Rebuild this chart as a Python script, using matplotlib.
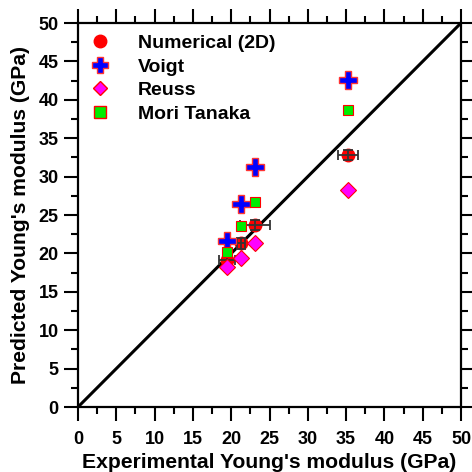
import matplotlib
matplotlib.use("Agg")
import matplotlib.pyplot as plt
from matplotlib.ticker import MultipleLocator
from matplotlib.lines import Line2D

plt.rcParams['font.family'] = ['Liberation Sans', 'DejaVu Sans']
plt.rcParams['font.weight'] = 'bold'

exp_x = [19.5, 21.3, 23.1, 35.2]
numerical = [19.2, 21.3, 23.7, 32.8]
num_xerr = [1.05, 0.55, 2.0, 1.3]
num_yerr = [0.7, 0.7, 0.7, 0.7]
voigt = [21.6, 26.4, 31.2, 42.6]
reuss = [18.2, 19.4, 21.3, 28.2]
mori = [20.2, 23.6, 26.7, 38.7]

fig = plt.figure(figsize=(4.72, 4.72), dpi=100)
ax = fig.add_axes([78/472, 1-407/472, (461-78)/472, (407-23)/472])

ax.plot([0, 50], [0, 50], color='black', lw=2.2, zorder=1)

ax.plot(exp_x, numerical, 'o', color='red', ms=9, ls='none', zorder=3,
        label='Numerical (2D)')
ax.errorbar(exp_x, numerical, xerr=num_xerr, yerr=num_yerr, fmt='none',
            ecolor='#333333', elinewidth=1.3, capsize=3.5, capthick=1.3, zorder=3.5)
ax.plot(exp_x, voigt, 'P', ms=13, mfc='blue', mec='#ff3333', mew=1.0, ls='none',
        zorder=4, label='Voigt')
ax.plot(exp_x, reuss, 'D', ms=8.5, mfc='magenta', mec='red', mew=0.8, ls='none',
        zorder=4, label='Reuss')
ax.plot(exp_x, mori, 's', ms=7.5, mfc='#00ee00', mec='red', mew=0.8, ls='none',
        zorder=4, label='Mori Tanaka')

ax.set_xlim(0, 50)
ax.set_ylim(0, 50)
ax.xaxis.set_major_locator(MultipleLocator(5))
ax.yaxis.set_major_locator(MultipleLocator(5))
ax.xaxis.set_minor_locator(MultipleLocator(2.5))
ax.yaxis.set_minor_locator(MultipleLocator(2.5))
ax.tick_params(which='both', direction='out', top=True, right=True, width=1.5,
               labelsize=13)
ax.tick_params(which='major', length=10)
ax.tick_params(which='minor', length=5)
ax.tick_params(axis='x', which='major', pad=7)
ax.tick_params(axis='y', which='major', pad=4)
for s in ax.spines.values():
    s.set_linewidth(1.6)
for lab in ax.get_xticklabels() + ax.get_yticklabels():
    lab.set_fontweight('bold')

ax.set_xlabel("Experimental Young's modulus (GPa)", fontsize=15.2, fontweight='bold', labelpad=4)
ax.set_ylabel("Predicted Young's modulus (GPa)", fontsize=15.2, fontweight='bold', labelpad=6)

h0 = Line2D([], [], marker='o', color='red', ms=9, ls='none')
h1 = Line2D([], [], marker='P', mfc='blue', mec='#ff3333', ms=11, ls='none')
h2 = Line2D([], [], marker='D', mfc='magenta', mec='red', ms=7.5, ls='none')
h3 = Line2D([], [], marker='s', mfc='#00ee00', mec='red', ms=8, ls='none')
leg = ax.legend([h0, h1, h2, h3], ['Numerical (2D)', 'Voigt', 'Reuss', 'Mori Tanaka'],
                loc='upper left', frameon=False, prop={'weight': 'bold', 'size': 14},
                handletextpad=0.95, labelspacing=0.3, borderaxespad=0.3,
                bbox_to_anchor=(-0.028, 1.005))

fig.savefig('out.png', dpi=100)
